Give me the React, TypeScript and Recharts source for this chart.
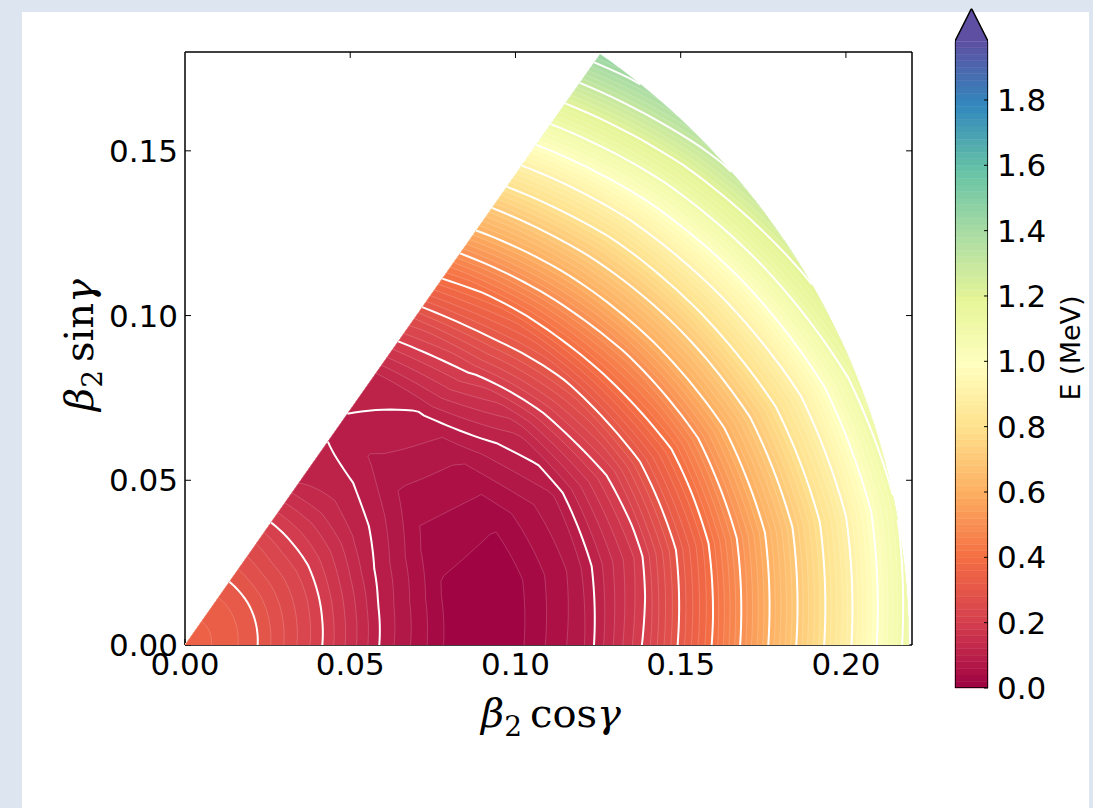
import { ScatterChart, Scatter, XAxis, YAxis, ReferenceArea, ReferenceLine } from 'recharts';

// polar grid of the deformation plane: beta nodes and gamma rays (degrees)
const betaNodes = [0, 0.02, 0.04, 0.06, 0.08, 0.1, 0.12, 0.14, 0.16, 0.18, 0.2, 0.22];
const gammaNodes = [0, 11, 22, 33, 44, 55];

// E (MeV), one row per gamma ray, one value per beta node
const energyGamma0 = [0.36, 0.31, 0.209, 0.093, 0.013, 0.012, 0.074, 0.212, 0.406, 0.641, 0.878, 1.139];
const energyGamma11 = [0.36, 0.311, 0.213, 0.098, 0.016, 0.008, 0.067, 0.19, 0.384, 0.614, 0.851, 1.109];
const energyGamma22 = [0.36, 0.312, 0.218, 0.107, 0.028, 0.022, 0.077, 0.217, 0.412, 0.647, 0.885, 1.146];
const energyGamma33 = [0.36, 0.313, 0.222, 0.122, 0.0525, 0.057, 0.126, 0.285, 0.494, 0.73, 0.976, 1.237];
const energyGamma44 = [0.36, 0.314, 0.223, 0.128, 0.076, 0.098, 0.205, 0.3575, 0.582, 0.819, 1.074, 1.335];
const energyGamma55 = [0.36, 0.3145, 0.2296, 0.12, 0.094, 0.115, 0.251, 0.44, 0.675, 0.93, 1.191, 1.454];
const energyRows = [energyGamma0, energyGamma11, energyGamma22, energyGamma33, energyGamma44, energyGamma55];

const betaLimit = 0.219;
const levelStep = 0.02;
const levelTop = 1.98;
const lineLevels = [0.1, 0.2, 0.3, 0.4, 0.5, 0.6, 0.7, 0.8, 0.9, 1.0, 1.1, 1.2, 1.3, 1.4, 1.5, 1.6, 1.7, 1.8, 1.9];

const xDomain = [0, 0.22];
const yDomain = [0, 0.18];
const xTicks = [0, 0.05, 0.1, 0.15, 0.2];
const yTicks = [0, 0.05, 0.1, 0.15];
const cbarTicks = [0, 0.2, 0.4, 0.6, 0.8, 1.0, 1.2, 1.4, 1.6, 1.8];

const spectralStops = ['#9e0142', '#d53e4f', '#f46d43', '#fdae61', '#fee08b', '#ffffbf', '#e6f598', '#abdda4', '#66c2a5', '#3288bd', '#5e4fa2'];

type Pt = { x: number; y: number };

function hexToRgb(h: string) {
  return [parseInt(h.slice(1, 3), 16), parseInt(h.slice(3, 5), 16), parseInt(h.slice(5, 7), 16)];
}

function spectral(t: number) {
  const c = Math.min(1, Math.max(0, t)) * (spectralStops.length - 1);
  const i = Math.min(spectralStops.length - 2, Math.floor(c));
  const f = c - i;
  const a = hexToRgb(spectralStops[i]);
  const b = hexToRgb(spectralStops[i + 1]);
  const m = a.map((v, k) => Math.round(v + (b[k] - v) * f));
  return `rgb(${m[0]},${m[1]},${m[2]})`;
}

const toPt = (beta: number, g: number): Pt => ({
  x: beta * Math.cos((g * Math.PI) / 180),
  y: beta * Math.sin((g * Math.PI) / 180),
});

// energy profile along one ray, cut at the edge of the map
function buildRay(g: number) {
  let j = 0;
  while (j < gammaNodes.length - 2 && g > gammaNodes[j + 1]) j++;
  const t = (g - gammaNodes[j]) / (gammaNodes[j + 1] - gammaNodes[j]);
  const full = betaNodes.map((_, i) => energyRows[j][i] * (1 - t) + energyRows[j + 1][i] * t);
  const bs: number[] = [];
  const es: number[] = [];
  for (let i = 0; i < betaNodes.length; i++) {
    if (betaNodes[i] < betaLimit) {
      bs.push(betaNodes[i]);
      es.push(full[i]);
    } else {
      const f = (betaLimit - betaNodes[i - 1]) / (betaNodes[i] - betaNodes[i - 1]);
      bs.push(betaLimit);
      es.push(full[i - 1] + (full[i] - full[i - 1]) * f);
      break;
    }
  }
  return { g, bs, es };
}

const rays = Array.from({ length: 56 }, (_, i) => buildRay(i));
const maxEnergy = Math.max(...rays.map((r) => Math.max(...r.es)));

function interval(ray: { bs: number[]; es: number[] }, level: number): [number, number] | null {
  const { bs, es } = ray;
  const n = es.length;
  const cross = (k: number) => bs[k] + ((level - es[k]) / (es[k + 1] - es[k])) * (bs[k + 1] - bs[k]);
  let a = -1;
  if (es[0] < level) a = 0;
  else {
    for (let k = 0; k < n - 1; k++) {
      if (es[k] >= level && es[k + 1] < level) {
        a = cross(k);
        break;
      }
    }
  }
  if (a < 0) return null;
  let b = -1;
  if (es[n - 1] < level) b = betaLimit;
  else {
    for (let k = n - 2; k >= 0; k--) {
      if (es[k] < level && es[k + 1] >= level) {
        b = cross(k);
        break;
      }
    }
  }
  if (b < 0) return null;
  return [a, b];
}

function regionPolygon(level: number): Pt[] | null {
  const outer: Pt[] = [];
  const inner: Pt[] = [];
  rays.forEach((ray) => {
    const iv = interval(ray, level);
    if (!iv) return;
    outer.push(toPt(iv[1], ray.g));
    inner.unshift(toPt(iv[0], ray.g));
  });
  return outer.length ? [...outer, ...inner] : null;
}

function contourRuns(level: number): Pt[][] {
  const ivs = rays.map((r) => interval(r, level));
  const runs: Pt[][] = [];
  let cur: Pt[] = [];
  ivs.forEach((iv, r) => {
    const onLine = iv && iv[1] < betaLimit - 1e-9;
    if (onLine) {
      const prev = ivs[r - 1];
      if (!cur.length && prev) cur.push(toPt(prev[1], rays[r - 1].g));
      cur.push(toPt(iv![1], rays[r].g));
    } else if (cur.length) {
      if (iv) cur.push(toPt(iv[1], rays[r].g));
      runs.push(cur);
      cur = [];
    }
  });
  if (cur.length) runs.push(cur);
  cur = [];
  ivs.forEach((iv, r) => {
    if (iv && iv[0] > 1e-9) cur.push(toPt(iv[0], rays[r].g));
    else if (cur.length) {
      runs.push(cur);
      cur = [];
    }
  });
  if (cur.length) runs.push(cur);
  return runs.filter((run) => run.length > 1);
}

const fillBands: { level: number; color: string; points: Pt[] }[] = [];
for (let k = 1; k * levelStep <= levelTop + 1e-9; k++) {
  const level = Math.round(k * levelStep * 100) / 100;
  const poly = regionPolygon(level);
  if (poly) fillBands.push({ level, color: spectral((level - levelStep / 2) / levelTop), points: poly });
  if (level > maxEnergy) break;
}
fillBands.reverse();

const whiteLines = lineLevels.flatMap((level) => contourRuns(level).map((points, i) => ({ key: `${level}-${i}`, points })));

const cbarBands = Array.from({ length: Math.round(levelTop / levelStep) }, (_, k) => {
  const lo = Math.round(k * levelStep * 100) / 100;
  const hi = Math.round((k + 1) * levelStep * 100) / 100;
  return { lo, hi, color: spectral((lo + levelStep / 2) / levelTop) };
});
const cbarTip = levelTop + 0.1;
const cbarArrow: Pt[] = [{ x: 0, y: levelTop }, { x: 0.5, y: cbarTip }, { x: 1, y: levelTop }];
const cbarFrame: Pt[] = [
  { x: 0, y: 0 }, { x: 1, y: 0 }, { x: 1, y: levelTop }, { x: 0.5, y: cbarTip }, { x: 0, y: levelTop }, { x: 0, y: 0 },
];

// inward tick length on the mirrored spines, in data units (about 6 px)
const tickLenX = 0.0018;
const tickLenY = 0.0018;

const NoDot = () => <g />;
const tickFont = { fill: '#000', fontSize: 31, fontFamily: 'DejaVu Sans' };
const spine = { stroke: '#000', strokeWidth: 1.5 };

const XTitle = () => (
  <text x={551} y={727} textAnchor="middle" fill="#000" fontFamily="DejaVu Serif" fontSize={40}>
    <tspan fontStyle="italic">β</tspan>
    <tspan fontSize={28} dy={9}>2</tspan>
    <tspan dy={-9} dx={8}>cos</tspan>
    <tspan fontStyle="italic">γ</tspan>
  </text>
);

const YTitle = () => (
  <text x={93} y={345} transform="rotate(-90 93 345)" textAnchor="middle" fill="#000" fontFamily="DejaVu Serif" fontSize={40}>
    <tspan fontStyle="italic">β</tspan>
    <tspan fontSize={28} dy={9}>2</tspan>
    <tspan dy={-9} dx={8}>sin</tspan>
    <tspan fontStyle="italic">γ</tspan>
  </text>
);

const CbarTitle = () => (
  <text x={180} y={348} transform="rotate(-90 180 348)" textAnchor="middle" fill="#000" fontFamily="DejaVu Sans" fontSize={27}>
    E (MeV)
  </text>
);

export default function App() {
  return (
    <div style={{ position: 'absolute', left: 0, top: 0, width: 1093, height: 808, background: '#dde6f0', overflow: 'hidden' }}>
      <div style={{ position: 'absolute', left: 22, top: 12, right: 4, bottom: 0, background: '#fff' }} />
      <div style={{ position: 'absolute', left: 0, top: 0 }}>
        <ScatterChart width={940} height={760} margin={{ top: 52, right: 28, bottom: 85, left: 125 }}>
          {fillBands.map((b) => (
            <Scatter
              key={`band-${b.level}`}
              data={b.points}
              fill={b.color}
              line={{ fill: b.color, stroke: 'rgba(255,255,255,0.3)', strokeWidth: 0.6 }}
              lineJointType="linear"
              shape={NoDot}
              isAnimationActive={false}
            />
          ))}
          {whiteLines.map((l) => (
            <Scatter
              key={`line-${l.key}`}
              data={l.points}
              fill="#fff"
              line={{ stroke: '#fff', strokeWidth: 2 }}
              lineJointType="linear"
              shape={NoDot}
              isAnimationActive={false}
            />
          ))}
          <ReferenceLine y={yDomain[1]} stroke="#000" strokeWidth={1.5} />
          <ReferenceLine x={xDomain[1]} stroke="#000" strokeWidth={1.5} />
          {xTicks.slice(1).map((t) => (
            <ReferenceLine
              key={`tt-${t}`}
              segment={[{ x: t, y: yDomain[1] }, { x: t, y: yDomain[1] - tickLenY }]}
              stroke="#000"
              strokeWidth={1}
            />
          ))}
          {yTicks.slice(1).map((t) => (
            <ReferenceLine
              key={`rt-${t}`}
              segment={[{ x: xDomain[1], y: t }, { x: xDomain[1] - tickLenX, y: t }]}
              stroke="#000"
              strokeWidth={1}
            />
          ))}
          <XAxis
            type="number"
            dataKey="x"
            domain={xDomain}
            allowDataOverflow
            ticks={xTicks}
            interval={0}
            tickFormatter={(v: number) => v.toFixed(2)}
            tick={tickFont}
            tickSize={-6}
            tickMargin={14}
            tickLine={{ stroke: '#000' }}
            axisLine={spine}
            height={30}
            label={<XTitle />}
          />
          <YAxis
            type="number"
            dataKey="y"
            domain={yDomain}
            allowDataOverflow
            ticks={yTicks}
            interval={0}
            tickFormatter={(v: number) => v.toFixed(2)}
            tick={tickFont}
            tickSize={-6}
            tickMargin={13}
            tickLine={{ stroke: '#000' }}
            axisLine={spine}
            width={60}
            label={<YTitle />}
          />
        </ScatterChart>
      </div>
      <div style={{ position: 'absolute', left: 900, top: 0 }}>
        <ScatterChart width={193} height={760} margin={{ top: 8.5, right: 45, bottom: 72, left: 55 }}>
          {cbarBands.map((b) => (
            <ReferenceArea
              key={`cb-${b.lo}`}
              x1={0}
              x2={1}
              y1={b.lo}
              y2={b.hi}
              fill={b.color}
              fillOpacity={1}
              stroke={b.color}
              strokeWidth={0.5}
            />
          ))}
          <Scatter
            data={cbarArrow}
            fill={spectralStops[spectralStops.length - 1]}
            line={{ fill: spectralStops[spectralStops.length - 1], stroke: 'none' }}
            lineJointType="linear"
            shape={NoDot}
            isAnimationActive={false}
          />
          <Scatter
            data={cbarFrame}
            fill="#000"
            line={{ fill: 'none', stroke: '#000', strokeWidth: 1.5 }}
            lineJointType="linear"
            shape={NoDot}
            isAnimationActive={false}
          />
          <XAxis type="number" dataKey="x" domain={[0, 1]} allowDataOverflow hide />
          <YAxis
            orientation="right"
            type="number"
            dataKey="y"
            domain={[0, cbarTip]}
            allowDataOverflow
            ticks={cbarTicks}
            interval={0}
            tickFormatter={(v: number) => v.toFixed(1)}
            tick={tickFont}
            tickSize={-4}
            tickMargin={13}
            tickLine={{ stroke: '#000' }}
            axisLine={false}
            width={60}
            label={<CbarTitle />}
          />
        </ScatterChart>
      </div>
    </div>
  );
}
